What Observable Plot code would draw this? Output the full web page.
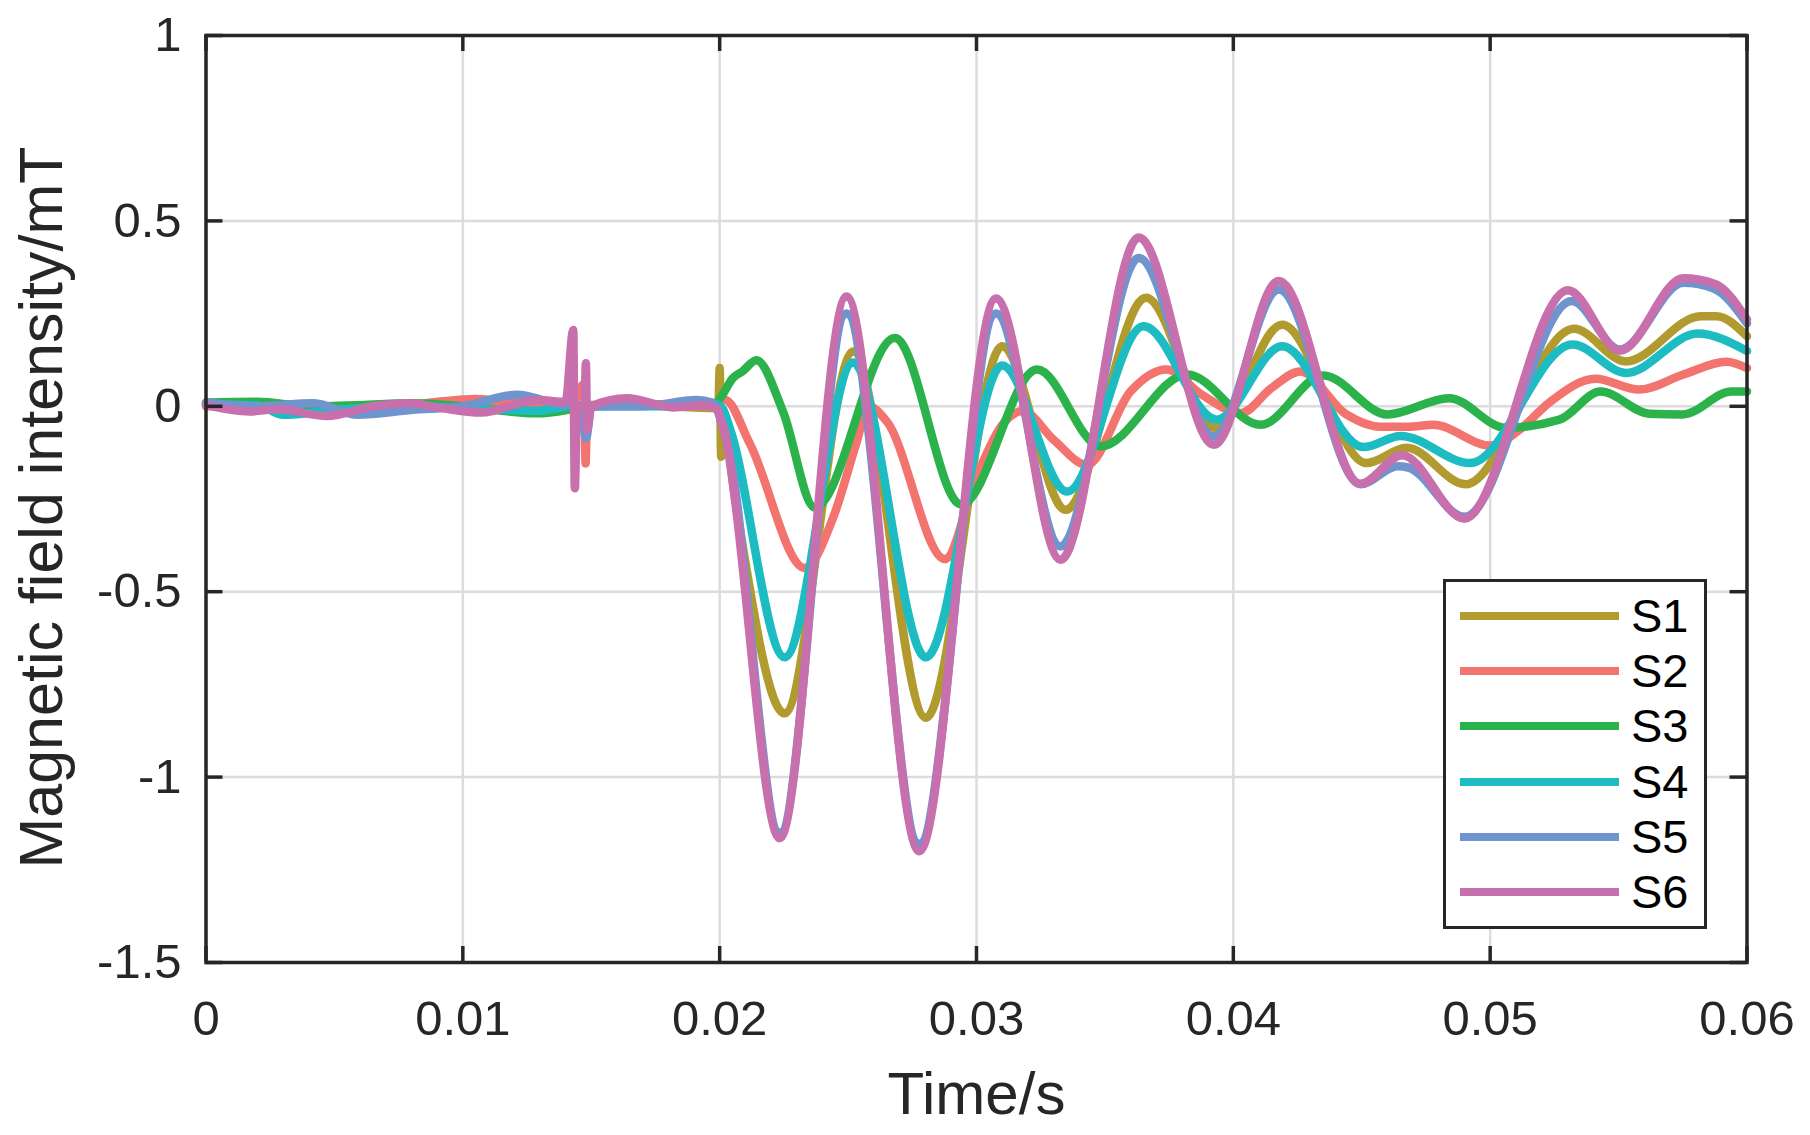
<!DOCTYPE html>
<html>
<head>
<meta charset="utf-8">
<script src="https://cdn.jsdelivr.net/npm/d3@7"></script>
<script src="https://cdn.jsdelivr.net/npm/@observablehq/plot@0.6"></script>
<style>
  body { margin: 0; background: #fff; }
  #wrap { position: relative; width: 1810px; height: 1135px; font-family: "Liberation Sans", Arial, Helvetica, sans-serif; }
  #legend { position: absolute; left: 1443px; top: 579px; width: 258px; height: 344px; border: 3px solid #262626; background: #fff; }
  .li { position: absolute; left: 0; height: 0; }
  .li .sw { position: absolute; left: 14px; width: 159px; height: 8px; top: -4px; }
  .li .lab { position: absolute; left: 185px; top: -28px; font-size: 47px; line-height: 56px; color: #000; }
</style>
</head>
<body>
<div id="wrap"><div id="chart"></div><div id="legend"></div></div>
<script>
// ---- data (time in s, field in mT) ----
const seriesNames = ["S1", "S2", "S3", "S4", "S5", "S6"];
const seriesColors = ["#B19B2F", "#F3736E", "#2CB24A", "#1CBCC2", "#7094CD", "#C86FAE"];
const xTicks = [0, 0.01, 0.02, 0.03, 0.04, 0.05, 0.06];
const yTicks = [-1.5, -1, -0.5, 0, 0.5, 1];

const t1 = [0, 0.002, 0.004, 0.006, 0.008, 0.010, 0.012, 0.014, 0.016, 0.018, 0.0198, 0.01995, 0.0200, 0.02006, 0.0202, 0.0206, 0.02253, 0.0252, 0.02803, 0.0310, 0.03347, 0.0366, 0.0393, 0.0419, 0.04518, 0.04675, 0.04904, 0.05326, 0.05528, 0.0582, 0.0588, 0.06];
const v1 = [0, 0.004, -0.003, 0.002, 0.004, 0, 0.005, 0.002, 0.005, 0, -0.005, 0, 0.103, -0.136, -0.07, -0.25, -0.828, 0.148, -0.84, 0.162, -0.279, 0.293, -0.058, 0.22, -0.153, -0.112, -0.21, 0.209, 0.121, 0.243, 0.243, 0.189];

const t2 = [0, 0.002, 0.004, 0.006, 0.008, 0.0105, 0.012, 0.0142, 0.01472, 0.01478, 0.01484, 0.0150, 0.017, 0.0195, 0.0202, 0.02117, 0.02331, 0.02442, 0.02532, 0.0258, 0.0265, 0.02877, 0.0300, 0.0310, 0.0318, 0.0330, 0.0343, 0.0360, 0.0374, 0.0388, 0.0403, 0.0415, 0.0426, 0.0444, 0.0457, 0.0468, 0.0478, 0.0500, 0.0512, 0.0523, 0.0541, 0.0558, 0.0575, 0.0592, 0.06];
const v2 = [0.005, -0.002, 0, 0, 0.005, 0.02, 0.01, 0, 0.06, -0.154, 0, 0, 0.005, 0, 0.018, -0.1, -0.436, -0.3, -0.1, 0, -0.04, -0.412, -0.19, -0.05, -0.013, -0.09, -0.158, 0.04, 0.099, 0.03, -0.018, 0.05, 0.094, -0.022, -0.055, -0.055, -0.05, -0.106, -0.06, 0.01, 0.074, 0.045, 0.085, 0.12, 0.103];

const t3 = [0, 0.002, 0.004, 0.006, 0.008, 0.010, 0.0129, 0.015, 0.017, 0.019, 0.0198, 0.0201, 0.0205, 0.0209, 0.02143, 0.02247, 0.0237, 0.02682, 0.0294, 0.03236, 0.03483, 0.0382, 0.04106, 0.0435, 0.0460, 0.0484, 0.0506, 0.0527, 0.0543, 0.0562, 0.0575, 0.0594, 0.06];
const v3 = [0.01, 0.012, 0, 0.003, 0.008, 0, -0.019, 0, 0.005, 0.003, 0.005, 0.03, 0.075, 0.095, 0.124, -0.015, -0.273, 0.184, -0.265, 0.099, -0.108, 0.086, -0.05, 0.083, -0.022, 0.022, -0.058, -0.036, 0.04, -0.02, -0.022, 0.04, 0.04];

const t4 = [0, 0.002, 0.003, 0.005, 0.008, 0.010, 0.0129, 0.0143, 0.016, 0.018, 0.0196, 0.0201, 0.0204, 0.02253, 0.0252, 0.02803, 0.0310, 0.03353, 0.0365, 0.03935, 0.0419, 0.04506, 0.04652, 0.04922, 0.05321, 0.05528, 0.05808, 0.06];
const v4 = [0.005, 0.003, -0.023, -0.01, 0, -0.005, -0.012, 0, 0, 0, 0.01, -0.005, -0.06, -0.677, 0.118, -0.677, 0.11, -0.23, 0.216, -0.036, 0.162, -0.11, -0.08, -0.153, 0.167, 0.09, 0.196, 0.149];

const t5 = [0, 0.002, 0.0042, 0.0059, 0.008, 0.010, 0.0121, 0.0138, 0.0146, 0.0148, 0.0150, 0.017, 0.0191, 0.0197, 0.0203, 0.02234, 0.02494, 0.02777, 0.03076, 0.03327, 0.03632, 0.03924, 0.04177, 0.04495, 0.0464, 0.0468, 0.049, 0.05318, 0.05505, 0.05752, 0.0587, 0.06];
const v5 = [0.01, 0, 0.008, -0.023, -0.01, 0, 0.031, 0.005, 0, -0.086, 0, 0, 0.017, 0.01, -0.1, -1.15, 0.25, -1.18, 0.25, -0.378, 0.40, -0.081, 0.315, -0.21, -0.162, -0.165, -0.298, 0.284, 0.153, 0.333, 0.318, 0.224];

const t6 = [0, 0.0017, 0.0028, 0.0047, 0.0065, 0.0079, 0.009, 0.0107, 0.0129, 0.0140, 0.01430, 0.01436, 0.01445, 0.01474, 0.01479, 0.01484, 0.0150, 0.0164, 0.0182, 0.0193, 0.0199, 0.0200, 0.02026, 0.0205, 0.02234, 0.02494, 0.02777, 0.03076, 0.03327, 0.03632, 0.03924, 0.04177, 0.04495, 0.04657, 0.049, 0.05303, 0.05505, 0.05752, 0.05876, 0.06];
const v6 = [0.003, -0.014, -0.008, -0.026, 0, 0.008, -0.003, -0.017, 0.017, 0.012, 0.206, -0.221, 0, 0, 0.116, -0.064, 0, 0.022, -0.003, 0.003, -0.005, -0.027, -0.087, -0.2, -1.165, 0.296, -1.2, 0.291, -0.414, 0.455, -0.104, 0.338, -0.209, -0.132, -0.303, 0.313, 0.15, 0.345, 0.33, 0.234];

const times = [t1, t2, t3, t4, t5, t6];
const values = [v1, v2, v3, v4, v5, v6];
const rows = seriesNames.flatMap((s, i) => times[i].map((t, j) => ({s, t, v: values[i][j]})));

// ---- layout ----
const W = 1810, H = 1135, mL = 205.5, mR = 63.5, mT = 35, mB = 173;
const plotW = W - mL - mR, plotH = H - mT - mB;
const ink = "#262626";

const chart = Plot.plot({
  width: W, height: H,
  marginLeft: mL, marginRight: mR, marginTop: mT, marginBottom: mB,
  x: {domain: [0, 0.06]},
  y: {domain: [-1.5, 1]},
  color: {domain: seriesNames, range: seriesColors},
  style: {fontFamily: '"Liberation Sans", Arial, Helvetica, sans-serif', color: ink, background: "#fff", overflow: "visible"},
  marks: [
    Plot.gridX(xTicks, {stroke: "#dcdcdc", strokeOpacity: 1, strokeWidth: 2.5}),
    Plot.gridY(yTicks, {stroke: "#dcdcdc", strokeOpacity: 1, strokeWidth: 2.5}),
    Plot.line(rows, {x: "t", y: "v", z: "s", stroke: "s", strokeWidth: 8.5, curve: "monotone-x", strokeLinejoin: "round", strokeLinecap: "round"}),
    Plot.frame({stroke: ink, strokeWidth: 3.5}),
    Plot.ruleX(xTicks, {stroke: ink, strokeWidth: 3.5, insetTop: plotH - 16}),
    Plot.ruleX(xTicks, {stroke: ink, strokeWidth: 3.5, insetBottom: plotH - 16}),
    Plot.ruleY(yTicks, {stroke: ink, strokeWidth: 3.5, insetRight: plotW - 17}),
    Plot.ruleY(yTicks, {stroke: ink, strokeWidth: 3.5, insetLeft: plotW - 17}),
    Plot.axisX(xTicks, {tickSize: 0, tickPadding: 38, fontSize: 49, tickFormat: d => String(d), label: null, fill: ink}),
    Plot.axisY(yTicks, {tickSize: 0, tickPadding: 24.5, fontSize: 49, tickFormat: d => String(d), label: null, fill: ink}),
    Plot.text(["Time/s"], {text: d => d, frameAnchor: "bottom", textAnchor: "middle", lineAnchor: "middle", dy: 132, fontSize: 60, fill: ink}),
    Plot.text(["Magnetic field intensity/mT"], {text: d => d, frameAnchor: "left", textAnchor: "middle", lineAnchor: "middle", rotate: -90, dx: -163.5, dy: 8.5, fontSize: 61, fill: ink})
  ]
});
document.getElementById("chart").appendChild(chart);

// ---- legend ----
const legend = document.getElementById("legend");
seriesNames.forEach((s, i) => {
  const item = document.createElement("div");
  item.className = "li";
  item.style.top = (33.7 + i * 55.3) + "px";
  item.innerHTML = `<div class="sw" style="background:${seriesColors[i]}"></div><div class="lab">${s}</div>`;
  legend.appendChild(item);
});
</script>
</body>
</html>
